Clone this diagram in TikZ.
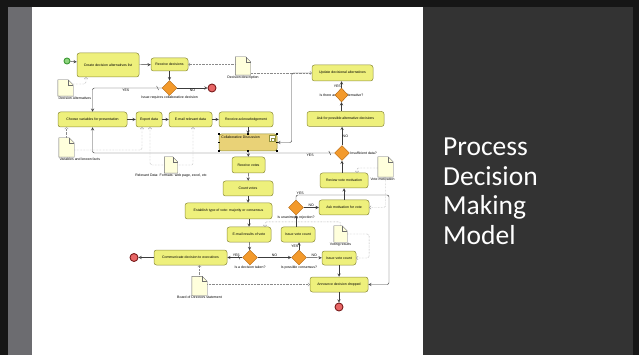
\documentclass[tikz,border=0pt]{standalone}
\usepackage{fontspec}
\usetikzlibrary{shapes.geometric}
\newfontfamily\diagfont{Liberation Sans}
\newfontfamily\titlefont{Carlito}
\newcommand{\dfont}{\diagfont\fontsize{3.5}{4}\selectfont}

\definecolor{framebk}{HTML}{161616}
\definecolor{bandgray}{HTML}{6C6C70}
\definecolor{panelgray}{HTML}{333333}
\definecolor{taskfill}{HTML}{EEF07C}
\definecolor{taskline}{HTML}{8E8E3C}
\definecolor{colfill}{HTML}{E9D277}
\definecolor{gatefill}{HTML}{F39A2C}
\definecolor{gateline}{HTML}{B0640E}
\definecolor{endfill}{HTML}{E86666}
\definecolor{endline}{HTML}{7A1C1C}
\definecolor{startfill}{HTML}{8ED47E}
\definecolor{startline}{HTML}{3E9A36}
\definecolor{docfill}{HTML}{FFFFDC}
\definecolor{docline}{HTML}{6E6E6E}
\definecolor{flowgray}{HTML}{3C3C3C}
\definecolor{assocgray}{HTML}{8A8A8A}

\tikzset{
  task/.style={draw=taskline, fill=taskfill, rounded corners=2.5pt, inner sep=0pt,
    minimum height=15pt, font=\dfont, line width=0.5pt},
  gate/.style={diamond, draw=gateline, fill=gatefill, minimum width=15pt,
    minimum height=15pt, inner sep=0pt, label distance=0pt},
  startev/.style={circle, draw=startline, fill=startfill, line width=0.9pt,
    minimum size=6pt, inner sep=0pt},
  endev/.style={circle, draw=endline, fill=endfill, line width=0.9pt,
    minimum size=8pt, inner sep=0pt},
  doc/.style={minimum width=15pt, minimum height=18pt, inner sep=0pt, label distance=0.5pt},
  flow/.style={->, draw=flowgray, line width=0.45pt, rounded corners=2pt},
  assoc/.style={-to, draw=assocgray, densely dotted, line width=0.45pt, rounded corners=2pt},
  flab/.style={font=\dfont, inner sep=0.5pt},
  every label/.style={font=\dfont, inner sep=0.5pt},
}

% folded page for a data object
\newcommand{\docfold}[1]{%
  \filldraw[draw=docline, fill=docfill, line width=0.4pt] (#1.south west) -- (#1.north west)
    -- ([xshift=-5pt]#1.north east) -- ([yshift=-5pt]#1.north east) -- (#1.south east) -- cycle;
  \draw[docline, line width=0.4pt] ([xshift=-5pt]#1.north east)
    -- ([xshift=-5pt,yshift=-5pt]#1.north east) -- ([yshift=-5pt]#1.north east);}

\begin{document}
\begin{tikzpicture}[>=stealth, x=1pt, y=-1pt]
\useasboundingbox (0,0) rectangle (639,355);
% slide
\fill[framebk] (0,0) rectangle (639,355);
\fill[bandgray] (8,7) rectangle (32,355);
\fill[white] (32,7) rectangle (423,355);
\fill[panelgray] (423,7) rectangle (633,355);
\node (ttl) at (443,138) [anchor=north west, align=left, inner sep=0pt, text=white,
  font=\titlefont\fontsize{27.5}{29.5}\selectfont] {Process\\Decision\\Making\\Model};

% data objects
\node (ddsc) at (243,66) [doc, label=below:Decision description] {};
\docfold{ddsc}
\node (dalt) at (65.5,88) [doc, minimum height=16pt,
  label={[anchor=north west]south west:Decision Alternatives}] {};
\docfold{dalt}
\node (vkf) at (66.5,147.5) [doc, minimum height=19pt,
  label={[anchor=north west]south west:Variables and known facts}] {};
\docfold{vkf}
\node (rel) at (171,165) [doc, minimum width=13pt, minimum height=16pt,
  label=below:{Relevant Data: Formats: web page, excel, etc}] {};
\docfold{rel}
\node (vmot) at (385.5,167) [doc, minimum height=20pt,
  label={[xshift=-3pt]below:Vote motivation}] {};
\docfold{vmot}
\node (vres) at (340.5,234) [doc, minimum width=13pt, minimum height=16pt,
  label=below:Voting results] {};
\docfold{vres}
\node (brd) at (199.5,286) [doc, minimum height=19pt, label=below:Board of Directors statement] {};
\docfold{brd}

% tasks and events
\node (st)   at (67,61)      [startev] {};
\node (crt)  at (108,65)     [task, minimum width=62pt, minimum height=24pt] {Create decision alternatives list};
\node (rcv)  at (169.5,64.5) [task, minimum width=37pt, minimum height=13pt] {Receive decisions};
\node (g1)   at (169.5,88)   [gate, label=below:Issue requires collaborative decision] {};
\node (e1)   at (212,88)     [endev] {};
\node (upd)  at (342.5,73)   [task, minimum width=61pt, minimum height=16pt] {Update decisional alternatives};
\node (galtl) at (341.5,95)  [flab] {Is there another alternative?};
\node (galt) at (341.5,95)   [gate, minimum width=13pt, minimum height=14pt] {};
\node (chs)  at (92.5,119.5) [task, minimum width=69pt] {Choose variables for presentation};
\node (exp)  at (149,119.5)  [task, minimum width=26pt] {Export data};
\node (eml)  at (190.5,119.5) [task, minimum width=43pt] {E-mail relevant data};
\node (ack)  at (246,119.5)  [task, minimum width=54pt] {Receive acknowledgement};
\node (aalt) at (345.5,119)  [task, minimum width=77pt] {Ask for possible alternative decisions};
\node (col)  at (248,142.5)  [task, fill=colfill, minimum width=58pt, minimum height=17pt,
  label={[anchor=north west, xshift=2pt, yshift=-2pt]north west:Collaborative Discussion}] {};
\node (gins) at (342,153)    [gate, label=right:Insufficient data?] {};
\node (rvt)  at (248.5,165)  [task, minimum width=33pt, minimum height=16pt] {Receive votes};
\node (rvm)  at (344,180.5)  [task, minimum width=48pt] {Review vote motivation};
\node (cnt)  at (248,188.5)  [task, minimum width=50pt] {Count votes};
\node (gun)  at (296,207.5)  [gate, label=below:Is unanimous rejection?] {};
\node (amv)  at (344,207.5)  [task, minimum width=50pt] {Ask motivation for vote};
\node (est)  at (228.5,211)  [task, minimum width=87pt, minimum height=16pt] {Establish type of vote: majority or consensus};
\node (emr)  at (249,234.5)  [task, minimum width=44pt] {E-mail results of vote};
\node (is1)  at (298,234.5)  [task, minimum width=34pt] {Issue vote count};
\node (gdt)  at (250,257.5)  [gate, label=below:Is a decision taken?] {};
\node (gcon) at (299,257.5)  [gate, label=below:Is possible consensus?] {};
\node (is2)  at (339,258)    [task, minimum width=34pt, minimum height=14pt] {Issue vote count};
\node (com)  at (190.5,257.5) [task, minimum width=73pt] {Communicate decision to executives};
\node (e2)   at (134,257.5)  [endev] {};
\node (ann)  at (339,284.5)  [task, minimum width=58pt] {Announce decision dropped};
\node (e3)   at (339,307)    [endev] {};

% sub-process marker and selection handles
\draw[taskline, fill=white, line width=0.4pt] ([xshift=-8pt,yshift=-1.5pt]col.north east) rectangle ++(6,6);
\draw[taskline, line width=0.4pt] ([xshift=-6.5pt,yshift=-4.5pt]col.north east) rectangle ++(3,2.5);
\foreach \a in {north west,north,north east,east,south east,south,south west,west}
  \fill (col.\a) +(-0.9,-0.9) rectangle +(0.9,0.9);

% sequence flows
\draw [flow] (st) -- (crt);
\draw [flow] (crt) -- (rcv);
\draw [flow] (rcv) -- (g1);
\draw [flow] (g1) -- node[flab, below] {NO} (e1);
\draw [flow] (g1.west) -| coordinate[pos=0.03] (s1) node[flab, pos=0.26, below] {YES} (chs.north);
\draw [flowgray, line width=0.4pt] ([shift={(-1,-2)}]s1) -- ([shift={(1,2)}]s1);
\draw [flow] (chs) -- (exp);
\draw [flow] (exp) -- (eml);
\draw [flow] (eml) -- (ack);
\draw [flow] (ack.south -| col.north) -- (col.north);
\draw [flow] (upd.west) -- ++(-20,0) |- (col.east);
\draw [flow] (aalt.north -| galt.south) -- (galt.south);
\draw [flow] (galt) -- node[flab, left, pos=0.2] {YES} (galt.north |- upd.south);
\draw [flow] (gins) -- node[flab, right] {NO} (gins.north |- aalt.south);
\draw [flow] (gins.west) -| coordinate[pos=0.0093] (s2) node[flab, pos=0.05, below] {YES} (chs.south);
\draw [flowgray, line width=0.4pt] ([shift={(-1,-2)}]s2) -- ([shift={(1,2)}]s2);
\draw [flow] (rvm.north -| gins.south) -- (gins.south);
\draw [flow] (amv) -- (rvm);
\draw [flow] (gun) -- node[flab, above] {NO} (amv);
\coordinate (rloop) at (389,195);
\draw [flow] (gun.north) |- node[flab, pos=0.5, anchor=south west] {YES} (rloop) |- (ann.east);
\draw [flow] (col) -- (rvt);
\draw [flow] (rvt) -- (cnt);
\draw [flow] (cnt.south) -- (cnt.south |- est.north);
\draw [flow] (est.south -| emr.north) -- (emr.north);
\draw [flow] (emr) -- (gdt);
\draw [flow] (gdt) -- coordinate[pos=0.22] (s3) node[flab, pos=0.4, above] {YES} (com);
\draw [flowgray, line width=0.4pt] ([shift={(-1,-2)}]s3) -- ([shift={(1,2)}]s3);
\draw [flow] (com) -- (e2);
\draw [flow] (gdt) -- node[flab, above] {NO} (gcon);
\draw [flow] (gcon.north) -- node[flab, left] {YES} (gcon.north |- is1.south);
\draw [flow] (is1.north -| gun.south) -- (gun.south);
\draw [flow] (gcon) -- node[flab, above] {NO} (is2);
\draw [flow] (is2) -- (ann);
\draw [flow] (ann) -- (e3);

% associations
\draw [assoc] (ddsc.west |- rcv.east) -- (rcv.east);
\draw [assoc] (ddsc.east |- upd.west) -- (upd.west);
\draw [assoc] ([yshift=4pt]dalt.east) -| ([xshift=-22pt]crt.south);
\draw [assoc] (vkf.north) -- (vkf.north |- chs.south);
\draw [assoc] ([yshift=-2.5pt]vkf.east) -| ([xshift=-7pt]exp.south);
\draw [assoc] (rel.west) -| ([xshift=1pt]exp.south);
\draw [assoc] (rel.east) -| ([xshift=2.5pt]eml.south);
\draw [assoc] ([yshift=-1pt]vmot.west) -| ([xshift=13pt]rvm.north);
\draw [assoc] (vmot.south) |- (amv.east);
\draw [assoc] (vres.north) -- ++(0,-4) -| ([xshift=16pt]emr.north);
\draw [assoc] (vres.east) -- ++(22,0) |- (is2.east);
\draw [assoc] (brd.north) -- (brd.north |- com.south);
\draw [assoc] (brd.east |- ann.west) -- (ann.west);
\end{tikzpicture}
\end{document}
